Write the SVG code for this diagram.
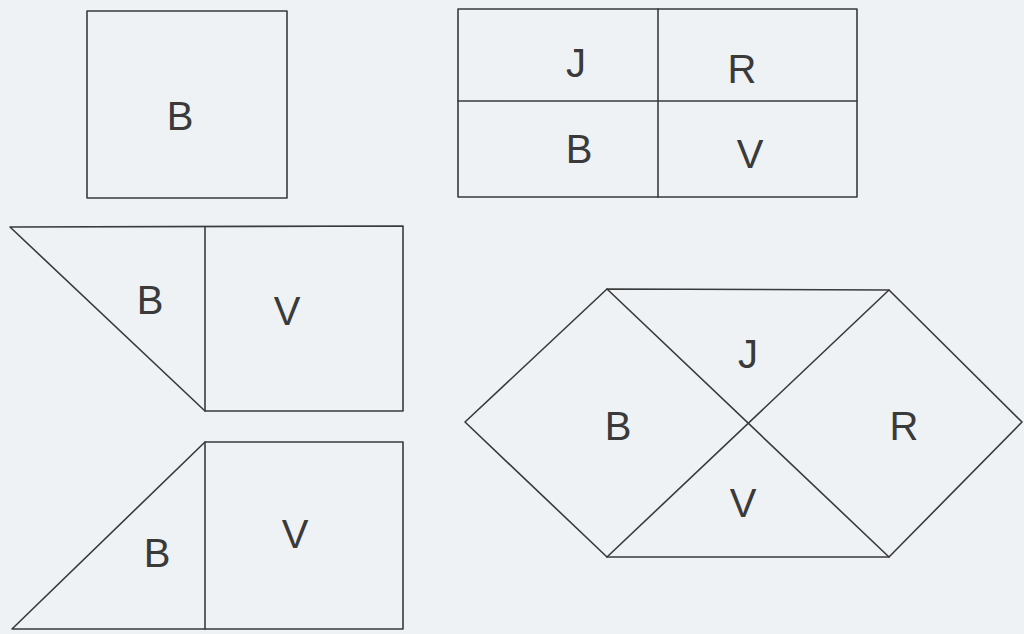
<svg xmlns="http://www.w3.org/2000/svg" width="1024" height="634" viewBox="0 0 1024 634">
<style>
.s{fill:none;stroke:#3a3a3a;stroke-width:1.6;stroke-linejoin:round;stroke-linecap:round}
.t{font-family:"Liberation Sans",Arial,sans-serif;font-size:40px;fill:#3a3a3a;text-anchor:middle}
</style>
<rect width="1024" height="634" fill="#eef2f5"/>
<g id="square">
<rect class="s" x="87" y="11" width="200" height="187"/>
<text class="t" x="180" y="130">B</text>
</g>
<g id="rectangle">
<rect class="s" x="458" y="9" width="399" height="188"/>
<line class="s" x1="658" y1="9" x2="658" y2="197"/>
<line class="s" x1="458" y1="101" x2="857" y2="101"/>
<text class="t" x="576" y="77">J</text>
<text class="t" x="742" y="83">R</text>
<text class="t" x="579" y="163">B</text>
<text class="t" x="750" y="168">V</text>
</g>
<g id="trapezoid-top">
<polygon class="s" points="10,227 403,226 403,411 205,411"/>
<line class="s" x1="205" y1="227" x2="205" y2="411"/>
<text class="t" x="150" y="314">B</text>
<text class="t" x="287" y="325">V</text>
</g>
<g id="trapezoid-bottom">
<polygon class="s" points="205,442 403,442 403,629 12,629"/>
<line class="s" x1="205" y1="442" x2="205" y2="629"/>
<text class="t" x="157" y="567">B</text>
<text class="t" x="295" y="548">V</text>
</g>
<g id="hexagon">
<polygon class="s" points="607,289 889,290 1022,422 889,557 607,557 465,422"/>
<line class="s" x1="607" y1="289" x2="889" y2="557"/>
<line class="s" x1="889" y1="290" x2="607" y2="557"/>
<text class="t" x="748" y="368">J</text>
<text class="t" x="618" y="440">B</text>
<text class="t" x="904" y="440">R</text>
<text class="t" x="743" y="517">V</text>
</g>
</svg>
